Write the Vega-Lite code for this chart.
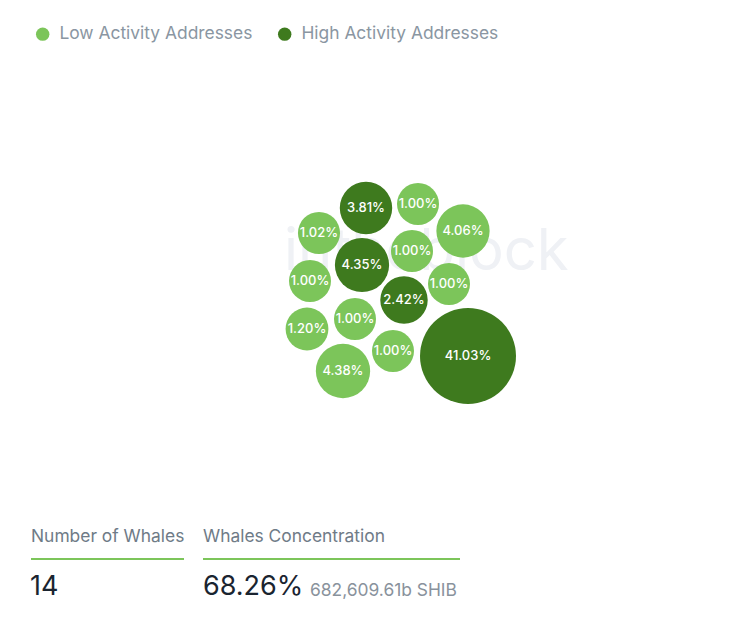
{
  "$schema": "https://vega.github.io/schema/vega-lite/v6.json",
  "width": 738,
  "height": 625,
  "padding": 0,
  "autosize": {"type": "none"},
  "background": "white",
  "config": {"view": {"stroke": null}, "font": "Inter"},
  "datasets": {
    "bubbles": [
      {"pct": 3.81, "label": "3.81%", "activity": "High Activity Addresses", "cx": 366, "cy": 208},
      {"pct": 1.00, "label": "1.00%", "activity": "Low Activity Addresses", "cx": 418, "cy": 204},
      {"pct": 1.02, "label": "1.02%", "activity": "Low Activity Addresses", "cx": 319, "cy": 233},
      {"pct": 4.06, "label": "4.06%", "activity": "Low Activity Addresses", "cx": 463, "cy": 231},
      {"pct": 1.00, "label": "1.00%", "activity": "Low Activity Addresses", "cx": 412, "cy": 251},
      {"pct": 4.35, "label": "4.35%", "activity": "High Activity Addresses", "cx": 362, "cy": 265},
      {"pct": 1.00, "label": "1.00%", "activity": "Low Activity Addresses", "cx": 310, "cy": 281},
      {"pct": 1.00, "label": "1.00%", "activity": "Low Activity Addresses", "cx": 449, "cy": 284},
      {"pct": 2.42, "label": "2.42%", "activity": "High Activity Addresses", "cx": 404, "cy": 300},
      {"pct": 1.20, "label": "1.20%", "activity": "Low Activity Addresses", "cx": 307, "cy": 329},
      {"pct": 1.00, "label": "1.00%", "activity": "Low Activity Addresses", "cx": 355, "cy": 319},
      {"pct": 1.00, "label": "1.00%", "activity": "Low Activity Addresses", "cx": 393, "cy": 351},
      {"pct": 4.38, "label": "4.38%", "activity": "Low Activity Addresses", "cx": 343, "cy": 371},
      {"pct": 41.03, "label": "41.03%", "activity": "High Activity Addresses", "cx": 468, "cy": 356}
    ]
  },
  "layer": [
    {
      "data": {"values": [{"t": "intheblock", "x": 284, "y": 253}]},
      "mark": {"type": "text", "align": "left", "baseline": "middle", "fontSize": 58, "fontWeight": "normal", "color": "#eff1f5"},
      "encoding": {
        "x": {"field": "x", "type": "quantitative", "scale": {"domain": [0, 738]}, "axis": null},
        "y": {"field": "y", "type": "quantitative", "scale": {"domain": [625, 0]}, "axis": null},
        "text": {"field": "t"}
      }
    },
    {
      "data": {"name": "bubbles"},
      "mark": {"type": "circle", "opacity": 1},
      "encoding": {
        "x": {"field": "cx", "type": "quantitative", "scale": {"domain": [0, 738]}, "axis": null},
        "y": {"field": "cy", "type": "quantitative", "scale": {"domain": [625, 0]}, "axis": null},
        "size": {"field": "pct", "type": "quantitative", "scale": {"type": "linear", "domain": [1, 2.42, 4.38, 41.03], "range": [1764, 2250, 2950, 9216]}, "legend": null},
        "color": {
          "field": "activity", "type": "nominal",
          "scale": {"domain": ["Low Activity Addresses", "High Activity Addresses"], "range": ["#7cc55a", "#3e7a1e"]},
          "legend": {
            "title": null, "orient": "none", "legendX": 34, "legendY": 25, "direction": "horizontal",
            "symbolType": "circle", "symbolSize": 180, "symbolOpacity": 1, "labelFontSize": 17.4, "labelColor": "#8a96a2",
            "labelFont": "Inter", "labelOffset": 8, "labelLimit": 0, "columnPadding": 23, "symbolStrokeWidth": 0
          }
        }
      }
    },
    {
      "data": {"name": "bubbles"},
      "mark": {"type": "text", "align": "center", "baseline": "middle", "fontSize": 13, "color": "white", "fontWeight": 500},
      "encoding": {
        "x": {"field": "cx", "type": "quantitative", "scale": {"domain": [0, 738]}, "axis": null},
        "y": {"field": "cy", "type": "quantitative", "scale": {"domain": [625, 0]}, "axis": null},
        "text": {"field": "label"}
      }
    },
    {
      "data": {"values": [{"x": 31, "x2": 184, "y": 559}, {"x": 203, "x2": 460, "y": 559}]},
      "mark": {"type": "rule", "color": "#7cc55a", "strokeWidth": 2},
      "encoding": {
        "x": {"field": "x", "type": "quantitative", "scale": {"domain": [0, 738]}, "axis": null},
        "x2": {"field": "x2"},
        "y": {"field": "y", "type": "quantitative", "scale": {"domain": [625, 0]}, "axis": null}
      }
    },
    {
      "data": {"values": [{"t": "Number of Whales", "x": 31, "y": 537}, {"t": "Whales Concentration", "x": 203, "y": 537}]},
      "mark": {"type": "text", "align": "left", "baseline": "middle", "fontSize": 17.4, "color": "#6f7b87"},
      "encoding": {
        "x": {"field": "x", "type": "quantitative", "scale": {"domain": [0, 738]}, "axis": null},
        "y": {"field": "y", "type": "quantitative", "scale": {"domain": [625, 0]}, "axis": null},
        "text": {"field": "t"}
      }
    },
    {
      "data": {"values": [{"t": "14", "x": 30, "y": 587}, {"t": "68.26%", "x": 203, "y": 587}]},
      "mark": {"type": "text", "align": "left", "baseline": "middle", "fontSize": 27, "color": "#1a2430"},
      "encoding": {
        "x": {"field": "x", "type": "quantitative", "scale": {"domain": [0, 738]}, "axis": null},
        "y": {"field": "y", "type": "quantitative", "scale": {"domain": [625, 0]}, "axis": null},
        "text": {"field": "t"}
      }
    },
    {
      "data": {"values": [{"t": "682,609.61b SHIB", "x": 310, "y": 591}]},
      "mark": {"type": "text", "align": "left", "baseline": "middle", "fontSize": 17.4, "color": "#89929c"},
      "encoding": {
        "x": {"field": "x", "type": "quantitative", "scale": {"domain": [0, 738]}, "axis": null},
        "y": {"field": "y", "type": "quantitative", "scale": {"domain": [625, 0]}, "axis": null},
        "text": {"field": "t"}
      }
    }
  ]
}
